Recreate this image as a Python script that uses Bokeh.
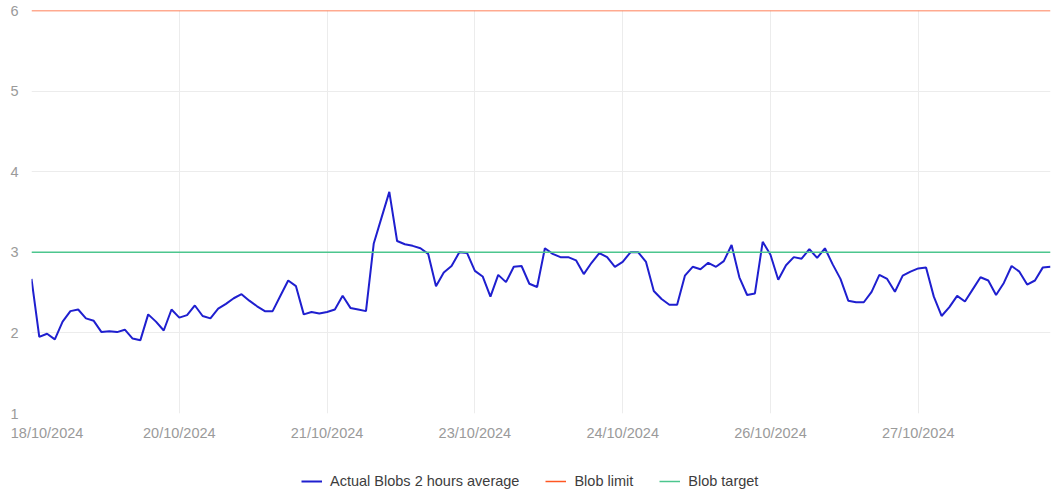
from bokeh.plotting import figure
from bokeh.layouts import column
from bokeh.models import Range1d, FixedTicker, Legend, LegendItem
from bokeh.embed import file_html
from bokeh.resources import INLINE

# Actual blobs, 2-hour average (one value per sample)
actual = [
    2.67, 1.95, 1.99, 1.92, 2.14, 2.27, 2.29, 2.18, 2.15, 2.01, 2.02, 2.01, 2.04, 1.93, 1.91, 2.23, 2.14, 2.03, 2.29, 2.19, 2.22, 2.34,
    2.21, 2.18, 2.30, 2.36, 2.43, 2.48, 2.40, 2.33, 2.27, 2.27, 2.46, 2.65, 2.58, 2.23, 2.26, 2.24, 2.26, 2.29, 2.46, 2.31, 2.29, 2.27,
    3.11, 3.43, 3.75, 3.14, 3.10, 3.08, 3.05, 2.98, 2.58, 2.75, 2.83, 3.00, 2.99, 2.77, 2.70, 2.45, 2.72, 2.63, 2.82, 2.83, 2.61, 2.57,
    3.05, 2.98, 2.94, 2.94, 2.90, 2.73, 2.87, 2.99, 2.94, 2.82, 2.88, 3.00, 3.00, 2.88, 2.52, 2.42, 2.35, 2.35, 2.71, 2.82, 2.79, 2.87,
    2.82, 2.89, 3.09, 2.69, 2.47, 2.49, 3.13, 2.97, 2.66, 2.84, 2.94, 2.92, 3.04, 2.93, 3.05, 2.85, 2.67, 2.40, 2.38, 2.38, 2.51, 2.72,
    2.67, 2.51, 2.71, 2.76, 2.80, 2.81, 2.45, 2.21, 2.32, 2.46, 2.39, 2.54, 2.69, 2.65, 2.47, 2.62, 2.83, 2.76, 2.60, 2.65, 2.81, 2.82,
]
blob_limit = 6
blob_target = 3

date_labels = ["18/10/2024", "20/10/2024", "21/10/2024", "23/10/2024",
               "24/10/2024", "26/10/2024", "27/10/2024"]
label_step = 19          # one date label every 19 samples
y_ticks = [1, 2, 3, 4, 5, 6]

series_names = ["Actual Blobs 2 hours average", "Blob limit", "Blob target"]
colors = ["#1f1fcf", "#ff5722", "#4cc68e"]
widths = [2, 1.5, 1.5]

n = len(actual)
x = list(range(n))
series_values = [actual, [blob_limit] * n, [blob_target] * n]
grid_positions = [i * label_step for i in range(len(date_labels))] + [n - 1]
label_positions = [i * label_step for i in range(len(date_labels))]
label_positions[0] = 2   # first label nudged inside the figure

FONT = "Liberation Sans"

p = figure(width=1059, height=460, output_backend="svg", toolbar_location=None,
           x_range=Range1d(0, n - 1), y_range=Range1d(1, 6),
           min_border_left=31, min_border_right=9, min_border_top=10,
           min_border_bottom=47)
p.outline_line_color = None

r_actual = p.line(x, series_values[0], line_color=colors[0], line_width=widths[0])
r_target = p.line(x, series_values[2], line_color=colors[2], line_width=widths[2])
r_limit = p.line(x, series_values[1], line_color=colors[1], line_width=widths[1])

p.xgrid.ticker = FixedTicker(ticks=grid_positions)
p.ygrid.ticker = FixedTicker(ticks=y_ticks)
for g in (p.xgrid, p.ygrid):
    g.grid_line_color = "#ececec"
    g.grid_line_width = 1

xa = p.xaxis[0]
xa.ticker = FixedTicker(ticks=label_positions)
xa.major_label_overrides = {pos: lab for pos, lab in zip(label_positions, date_labels)}
ya = p.yaxis[0]
ya.ticker = FixedTicker(ticks=y_ticks)

for ax in (xa, ya):
    ax.axis_line_color = None
    ax.major_tick_line_color = None
    ax.minor_tick_line_color = None
    ax.major_tick_out = 0
    ax.major_tick_in = 0
    ax.major_label_text_font = FONT
    ax.major_label_text_font_size = "14.5px"
    ax.major_label_text_color = "#9a9a9a"
xa.major_label_standoff = 11
ya.major_label_standoff = 13

# legend strip below the chart (series drawn outside its visible range,
# only their legend swatches show)
q = figure(width=1059, height=34, output_backend="svg", toolbar_location=None,
           x_range=Range1d(0, n - 1), y_range=Range1d(-1, 0),
           x_axis_location=None, y_axis_location=None,
           min_border_left=0, min_border_right=0, min_border_top=0,
           min_border_bottom=0)
q.outline_line_color = None
q.xgrid.visible = False
q.ygrid.visible = False
legend_renderers = [q.line(x, vals, line_color=c, line_width=w)
                    for vals, c, w in zip(series_values, colors, widths)]

legend = Legend(items=[LegendItem(label=name, renderers=[r])
                       for name, r in zip(series_names, legend_renderers)],
                orientation="horizontal", location=(270, 5), margin=0,
                padding=0, spacing=26, glyph_width=21, glyph_height=16,
                label_height=16, label_standoff=8,
                border_line_color=None, background_fill_alpha=0,
                label_text_font=FONT, label_text_font_size="14.5px",
                label_text_color="#3d3d3d")
q.add_layout(legend)

open("out.html", "w").write(file_html(column(p, q, spacing=0), INLINE))
